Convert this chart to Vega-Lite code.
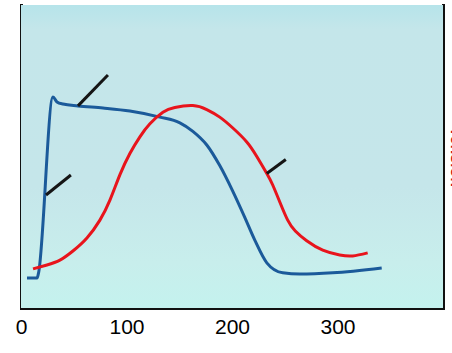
{
  "$schema": "https://vega.github.io/schema/vega-lite/v6.json",
  "width": 422,
  "height": 303,
  "autosize": "none",
  "padding": {"left": 21, "top": 5, "right": 9, "bottom": 45},
  "background": "white",
  "config": {
    "view": {"stroke": null},
    "axis": {"domainColor": "#111", "domainWidth": 3, "domainCap": "square", "ticks": false, "title": null}
  },
  "datasets": {
    "ap": [
      {"t": 5.7, "v": 9.9}, {"t": 15.2, "v": 9.9}, {"t": 16.6, "v": 11.5}, {"t": 30.3, "v": 69.6},
      {"t": 34.1, "v": 68.0}, {"t": 39.8, "v": 67.3}, {"t": 54.0, "v": 66.7}, {"t": 77.7, "v": 66.0},
      {"t": 103.2, "v": 65.0}, {"t": 131.6, "v": 63.0}, {"t": 150.6, "v": 61.1}, {"t": 162.9, "v": 58.3},
      {"t": 176.1, "v": 53.8}, {"t": 188.4, "v": 47.0}, {"t": 200.8, "v": 38.5}, {"t": 212.0, "v": 30.0},
      {"t": 221.6, "v": 22.4}, {"t": 233.0, "v": 14.9}, {"t": 248.1, "v": 11.6}, {"t": 264.2, "v": 11.2},
      {"t": 295.5, "v": 11.6}, {"t": 341.9, "v": 13.2}
    ],
    "force": [
      {"t": 11.4, "v": 12.9}, {"t": 24.6, "v": 14.2}, {"t": 36.9, "v": 15.8}, {"t": 49.2, "v": 18.8},
      {"t": 62.5, "v": 23.1}, {"t": 74.8, "v": 29.0}, {"t": 84.3, "v": 35.6}, {"t": 93.8, "v": 44.0},
      {"t": 103.2, "v": 51.0}, {"t": 112.7, "v": 56.5}, {"t": 122.2, "v": 60.8}, {"t": 134.5, "v": 64.6},
      {"t": 145.8, "v": 66.2}, {"t": 162.9, "v": 66.8}, {"t": 176.1, "v": 65.5}, {"t": 188.4, "v": 63.0},
      {"t": 200.8, "v": 59.4}, {"t": 214.0, "v": 54.8}, {"t": 223.5, "v": 50.0}, {"t": 233.0, "v": 44.4},
      {"t": 238.6, "v": 40.6}, {"t": 245.3, "v": 35.0}, {"t": 252.8, "v": 29.0}, {"t": 260.0, "v": 25.4},
      {"t": 270.8, "v": 22.2}, {"t": 286.0, "v": 19.1}, {"t": 302.1, "v": 17.5}, {"t": 314.4, "v": 17.2},
      {"t": 328.6, "v": 18.2}
    ],
    "pointers": [
      {"id": "a", "t": 23.7, "v": 37.3}, {"id": "a", "t": 47.3, "v": 43.9},
      {"id": "b", "t": 54.0, "v": 66.7}, {"id": "b", "t": 82.4, "v": 76.9},
      {"id": "c", "t": 233.0, "v": 44.4}, {"id": "c", "t": 251.0, "v": 49.0}
    ]
  },
  "resolve": {"axis": {"y": "independent", "x": "independent"}},
  "layer": [
    {
      "data": {"values": [{}]},
      "mark": {"type": "rect", "color": {"gradient": "linear", "x1": 0, "y1": 0, "x2": 0, "y2": 1,
        "stops": [{"offset": 0, "color": "#b6e4ea"}, {"offset": 0.08, "color": "#c4e6ea"}, {"offset": 0.6, "color": "#c5e6ea"}, {"offset": 0.85, "color": "#c8eeec"}, {"offset": 1, "color": "#c4f2ee"}]}},
      "encoding": {
        "x": {"datum": 0, "type": "quantitative", "scale": {"domain": [0, 400], "nice": false, "zero": false},
          "axis": {"values": [0, 100, 200, 300], "labelFont": "Liberation Sans", "labelFontSize": 21, "labelColor": "#000", "labelPadding": 8, "labelFlush": false, "grid": true, "gridColor": "#ffffff", "gridOpacity": 0.35, "gridWidth": 1}},
        "x2": {"datum": 400},
        "y": {"datum": 0, "type": "quantitative", "scale": {"domain": [0, 100], "nice": false, "zero": false},
          "axis": {"labels": false, "grid": false}},
        "y2": {"datum": 100}
      }
    },
    {
      "data": {"name": "ap"},
      "mark": {"type": "line", "color": "#1b5a9a", "strokeWidth": 3, "interpolate": "monotone"},
      "encoding": {
        "x": {"field": "t", "type": "quantitative", "axis": null},
        "y": {"field": "v", "type": "quantitative", "axis": null}
      }
    },
    {
      "data": {"name": "force"},
      "mark": {"type": "line", "color": "#e8141c", "strokeWidth": 3, "interpolate": "natural"},
      "encoding": {
        "x": {"field": "t", "type": "quantitative", "axis": null},
        "y": {"field": "v", "type": "quantitative",
          "axis": {"orient": "right", "labels": false, "grid": false, "title": "Tension", "titleColor": "#d0101a", "titleFontSize": 16, "titlePadding": 4, "titleFont": "Liberation Sans"}}
      }
    },
    {
      "data": {"name": "pointers"},
      "mark": {"type": "line", "color": "#151515", "strokeWidth": 3},
      "encoding": {
        "x": {"field": "t", "type": "quantitative", "axis": null},
        "y": {"field": "v", "type": "quantitative", "axis": null},
        "detail": {"field": "id"}
      }
    }
  ]
}
